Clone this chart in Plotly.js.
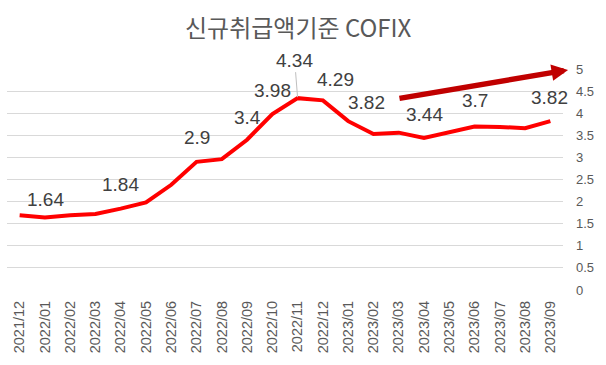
<!DOCTYPE html>
<html>
<head>
<meta charset="utf-8">
<script src="https://cdn.plot.ly/plotly-3.0.1.min.js"></script>
<style>html,body{margin:0;padding:0;background:#fff}#chart{width:606px;height:365px}</style>
</head>
<body>
<div id="chart"></div>
<script>
// ---- data ----
var months = ["2021/12","2022/01","2022/02","2022/03","2022/04","2022/05","2022/06","2022/07","2022/08","2022/09","2022/10","2022/11","2022/12","2023/01","2023/02","2023/03","2023/04","2023/05","2023/06","2023/07","2023/08","2023/09"];
var cofix = [1.69,1.64,1.69,1.72,1.84,1.98,2.38,2.90,2.96,3.40,3.98,4.34,4.29,3.82,3.53,3.56,3.44,3.56,3.70,3.69,3.66,3.82];
var labeledMonths = ["2022/01","2022/04","2022/07","2022/09","2022/10","2022/11","2022/12","2023/01","2023/04","2023/06","2023/09"];
var yTicks = [0,0.5,1,1.5,2,2.5,3,3.5,4,4.5,5];
var titleText = "신규취급액기준 COFIX";

// ---- label placement (style only) ----
var labelShift = {
  "2022/01": [1, 18], "2022/04": [0, 24], "2022/07": [0, 24], "2022/09": [0, 22],
  "2022/10": [0, 24], "2022/12": [13, 21], "2023/01": [18, 19], "2023/04": [0, 23],
  "2023/06": [0, 26], "2023/09": [-1, 24]
};

var annotations = [];
labeledMonths.forEach(function (m) {
  var i = months.indexOf(m);
  var v = cofix[i];
  if (m === "2022/11") {
    annotations.push({
      x: m, y: v, xref: "x", yref: "y", text: String(v),
      showarrow: true, arrowhead: 0, arrowwidth: 1, arrowcolor: "#BFBFBF",
      ax: -3, ay: -38, standoff: 1,
      font: {family: "Liberation Sans, Arial, sans-serif", size: 19, color: "#404040"}
    });
  } else {
    var s = labelShift[m] || [0, 23];
    annotations.push({
      x: m, y: v, xref: "x", yref: "y", text: String(v), showarrow: false,
      xshift: s[0], yshift: s[1],
      font: {family: "Liberation Sans, Arial, sans-serif", size: 19, color: "#404040"}
    });
  }
});

// trend arrow
annotations.push({
  x: 21.7, y: 4.98, xref: "x", yref: "y",
  ax: 14.97, ay: 4.33, axref: "x", ayref: "y",
  text: "", showarrow: true, arrowhead: 2, arrowsize: 0.6, arrowwidth: 5.5,
  arrowcolor: "#C00000", standoff: 0
});

var trace = {
  x: months, y: cofix, type: "scatter", mode: "lines",
  line: {color: "#FF0000", width: 4},
  hoverinfo: "x+y"
};

var layout = {
  width: 606, height: 365,
  margin: {l: 7, r: 43, t: 69, b: 75, pad: 0},
  paper_bgcolor: "#ffffff", plot_bgcolor: "#ffffff",
  showlegend: false,
  title: {
    text: titleText, x: 0.492, xanchor: "center", y: 0.922, yanchor: "middle",
    font: {family: "Noto Sans CJK KR, sans-serif", size: 24, color: "#595959"}
  },
  xaxis: {
    type: "category", range: [-0.5, 21.5], tickangle: -90, ticks: "",
    showgrid: false, zeroline: false, showline: false,
    tickfont: {family: "Liberation Sans, Arial, sans-serif", size: 14.5, color: "#595959"},
    ticklabelstandoff: 7, fixedrange: true
  },
  yaxis: {
    side: "right", range: [0, 5], tickvals: yTicks, ticktext: yTicks.map(String),
    ticks: "", showgrid: true, gridcolor: "#D9D9D9", gridwidth: 1,
    zeroline: false, showline: false,
    tickfont: {family: "Liberation Sans, Arial, sans-serif", size: 13, color: "#595959"},
    ticklabelstandoff: 12, fixedrange: true
  },
  annotations: annotations
};

Plotly.newPlot("chart", [trace], layout, {staticPlot: true, displayModeBar: false});
</script>
</body>
</html>
